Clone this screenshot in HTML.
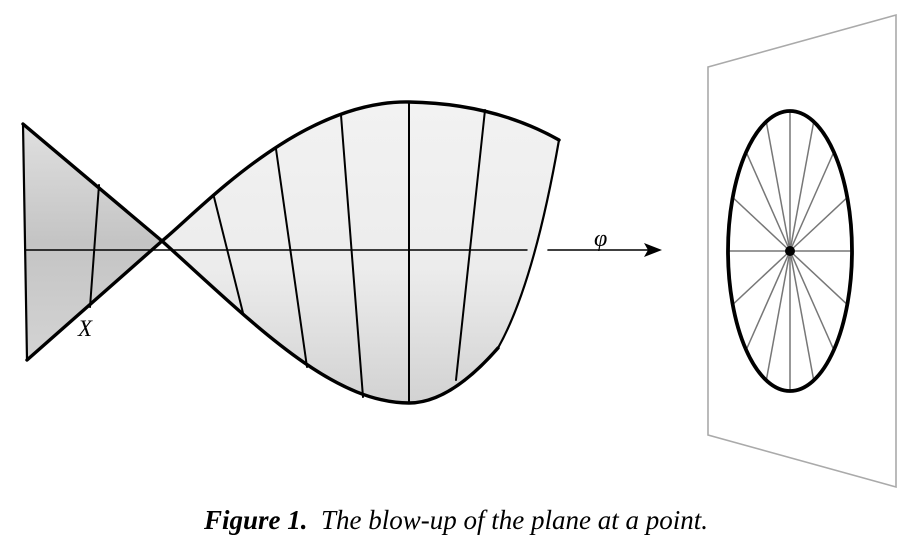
<!DOCTYPE html>
<html><head><meta charset="utf-8"><style>
html,body{margin:0;padding:0;background:#fff;}
body{width:912px;height:552px;overflow:hidden;position:relative;}
.cap{position:absolute;left:0;width:912px;top:505px;text-align:center;font-family:"Liberation Serif",serif;font-style:italic;font-size:27px;color:#000;}
</style></head><body>
<svg width="912" height="552" viewBox="0 0 912 552" style="position:absolute;left:0;top:0">
<defs>
<linearGradient id="gl" x1="0" y1="0" x2="0" y2="1">
<stop offset="0" stop-color="#e0e0e0"/><stop offset="0.5" stop-color="#c4c4c4"/><stop offset="1" stop-color="#d4d4d4"/>
</linearGradient>
<linearGradient id="gr" x1="0" y1="0" x2="0" y2="1">
<stop offset="0" stop-color="#f2f2f2"/><stop offset="0.55" stop-color="#ececec"/><stop offset="1" stop-color="#d2d2d2"/>
</linearGradient>
</defs>
<path d="M23,124 L162,241 L27,360 Z" fill="url(#gl)" stroke="none"/>
<path d="M162,241 C200,210 300,100 409,102 C470,103 520,118 559,140 C545,220 525,300 498,348 C470,380 440,403 409,403 C330,403 250,320 162,241 Z" fill="url(#gr)"/>
<g stroke="#000" fill="none" stroke-linecap="round">
<line x1="25" y1="250" x2="527" y2="250" stroke-width="1.4"/>
<line x1="99" y1="185" x2="90" y2="307" stroke-width="2"/>
<line x1="214" y1="197" x2="243" y2="313" stroke-width="2"/>
<line x1="276" y1="149" x2="307" y2="367" stroke-width="2"/>
<line x1="341" y1="115" x2="363" y2="397" stroke-width="2"/>
<line x1="409" y1="102" x2="409" y2="403" stroke-width="2"/>
<line x1="485" y1="110" x2="456" y2="380" stroke-width="2"/>
<path d="M23,124 L27,360" stroke-width="2.2"/>
<path d="M23,124 L162,241 C250,320 330,403 409,403 C440,403 470,380 498,348" stroke-width="3.4"/>
<path d="M27,360 L162,241 C200,210 300,100 409,102 C470,103 520,118 559,140" stroke-width="3.4"/>
<path d="M559,140 C545,220 525,300 498,348" stroke-width="2.2"/>
<line x1="548" y1="250" x2="652" y2="250" stroke-width="1.6"/>
</g>
<path d="M662,250 L644,243 L648,250 L644,257 Z" fill="#000"/>
<text x="594" y="246" font-family="Liberation Serif,serif" font-style="italic" font-size="24">φ</text>
<text x="78" y="336" font-family="Liberation Serif,serif" font-style="italic" font-size="23">X</text>
<polygon points="708,67 896,15 896,487 708,435" fill="none" stroke="#aaa" stroke-width="1.6"/>
<g stroke="#777" stroke-width="1.5" id="sp"></g>
<ellipse cx="790" cy="251" rx="62" ry="140" fill="none" stroke="#000" stroke-width="3.8"/>
<circle cx="790" cy="251" r="5" fill="#000"/>
<script>
var g=document.getElementById('sp');
for(var i=0;i<16;i++){var a=i*Math.PI/8;var l=document.createElementNS('http://www.w3.org/2000/svg','line');
l.setAttribute('x1',790);l.setAttribute('y1',251);l.setAttribute('x2',790+62*Math.sin(a));l.setAttribute('y2',251-140*Math.cos(a));g.appendChild(l);}
</script>
</svg>
<div class="cap"><b>Figure 1.</b>&nbsp; The blow-up of the plane at a point.</div>
</body></html>
